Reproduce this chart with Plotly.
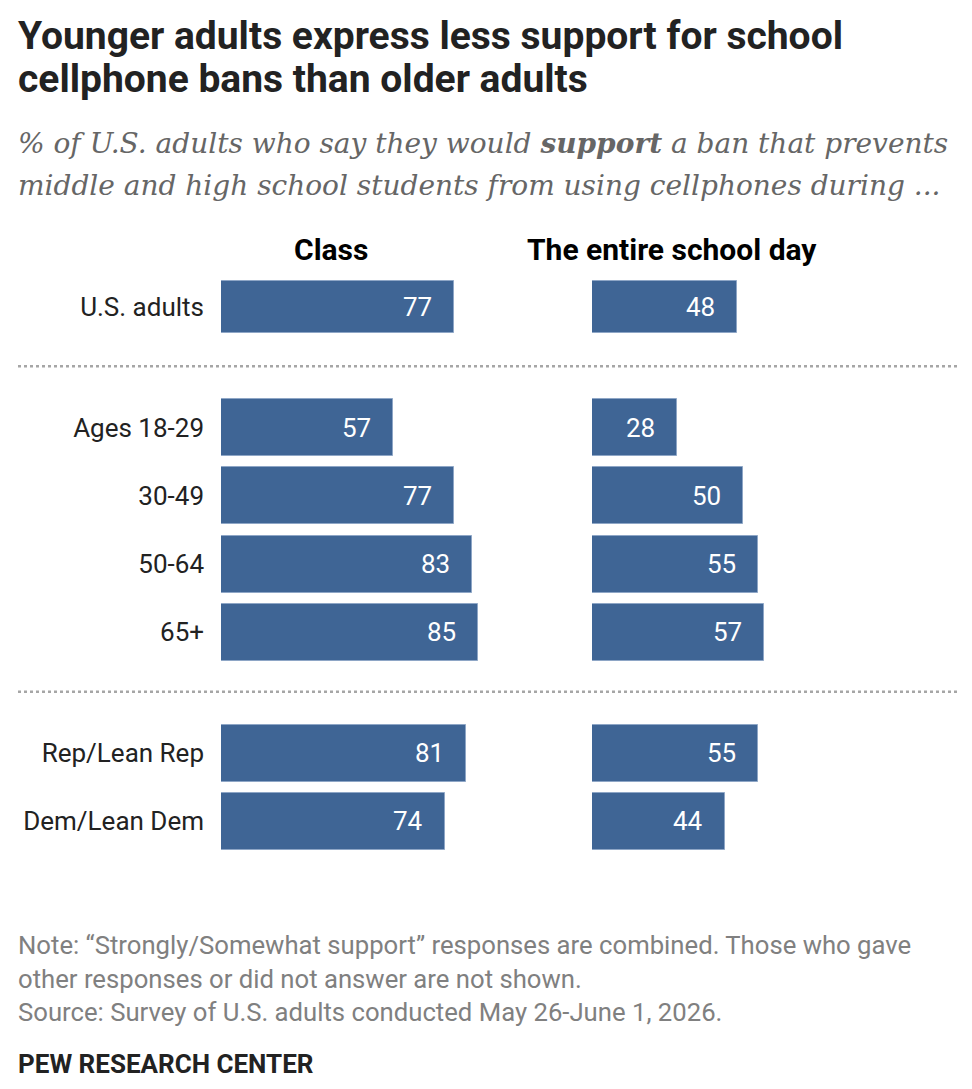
import plotly.graph_objects as go

# ---- data ----
categories = ["U.S. adults", "Ages 18-29", "30-49", "50-64", "65+",
              "Rep/Lean Rep", "Dem/Lean Dem"]
groups = [0, 1, 1, 1, 1, 2, 2]          # which block each row belongs to
class_support = [77, 57, 77, 83, 85, 81, 74]
schoolday_support = [48, 28, 50, 55, 57, 55, 44]
panel_titles = ["Class", "The entire school day"]

title_lines = ["Younger adults express less support for school",
               "cellphone bans than older adults"]
subtitle_lines = ["% of U.S. adults who say they would <b>support</b> a ban that prevents",
                  "middle and high school students from using cellphones during ..."]
note_lines = ["Note: \u201cStrongly/Somewhat support\u201d responses are combined. Those who gave",
              "other responses or did not answer are not shown.",
              "Source: Survey of U.S. adults conducted May 26-June 1, 2026."]
credit = "PEW RESEARCH CENTER"

# ---- layout helpers (the y axis is laid out in pixels, top = 0) ----
W, H = 972, 1089
BAR = "#3f6595"
EDGE = "#8ea6c6"
PX_PER_PT = 3.025
ROW_STEP, GROUP_GAP, TOP_ROW = 68.2, 52.5, 307

rows_y = [TOP_ROW + i * ROW_STEP + g * GROUP_GAP for i, g in enumerate(groups)]
bar_h = [52 if g == 0 else 57 for g in groups]

def px(x):
    return x / W

panel_left = [221, 592]

fig = go.Figure()
for k, vals in enumerate([class_support, schoolday_support]):
    xa = "x" if k == 0 else "x2"
    fig.add_trace(go.Bar(
        x=vals, y=rows_y, orientation="h", width=bar_h,
        xaxis=xa, yaxis="y",
        marker=dict(color=BAR, line=dict(color=EDGE, width=1)),
        hoverinfo="skip", showlegend=False,
    ))
    for v, yy in zip(vals, rows_y):
        fig.add_annotation(x=v, y=yy, xref=xa, yref="y", text=str(v),
                           xanchor="right", yanchor="middle", xshift=-20,
                           showarrow=False,
                           font=dict(family="Roboto", size=26, color="white"))

# separators between blocks
for a, b in zip(range(len(groups) - 1), range(1, len(groups))):
    if groups[a] != groups[b]:
        fig.add_shape(type="line", xref="paper", yref="y",
                      x0=px(18), x1=px(960),
                      y0=(rows_y[a] + rows_y[b]) / 2 - 1, y1=(rows_y[a] + rows_y[b]) / 2 - 1,
                      line=dict(color="#a6a6a6", width=2.5, dash="dot"))

# panel headers
for x_c, t in zip([331, 672], panel_titles):
    fig.add_annotation(x=px(x_c), y=249, xref="paper", yref="y", text="<b>%s</b>" % t,
                       xanchor="center", yanchor="middle", showarrow=False,
                       font=dict(family="Roboto", size=30, color="#000000"))

# title / subtitle / notes
for i, t in enumerate(title_lines):
    fig.add_annotation(x=px(16), y=36 + i * 43, xref="paper", yref="y",
                       text="<b>%s</b>" % t, xanchor="left", yanchor="middle",
                       showarrow=False,
                       font=dict(family="Roboto", size=39, color="#222222"))
for i, t in enumerate(subtitle_lines):
    fig.add_annotation(x=px(16), y=143 + i * 42, xref="paper", yref="y",
                       text="<i>%s</i>" % t, xanchor="left", yanchor="middle",
                       showarrow=False,
                       font=dict(family="DejaVu Serif", size=28, color="#666666"))
for i, t in enumerate(note_lines):
    fig.add_annotation(x=px(16), y=945 + i * 33.5, xref="paper", yref="y",
                       text=t, xanchor="left", yanchor="middle", showarrow=False,
                       font=dict(family="Roboto", size=25.7, color="#808080"))
fig.add_annotation(x=px(16), y=1064, xref="paper", yref="y",
                   text="<b>%s</b>" % credit, xanchor="left", yanchor="middle",
                   showarrow=False,
                   font=dict(family="Roboto", size=26, color="#222222"))

span = PX_PER_PT * 100
fig.update_layout(
    width=W, height=H,
    margin=dict(l=0, r=0, t=0, b=0),
    paper_bgcolor="white", plot_bgcolor="white",
    bargap=0,
    xaxis=dict(domain=[px(panel_left[0]), px(panel_left[0] + span)], range=[0, 100],
               visible=False, fixedrange=True),
    xaxis2=dict(domain=[px(panel_left[1]), px(panel_left[1] + span)], range=[0, 100],
                visible=False, fixedrange=True, anchor="y"),
    yaxis=dict(domain=[0, 1], range=[H, 0], anchor="x",
               tickmode="array", tickvals=rows_y, ticktext=categories,
               ticks="", showline=False, showgrid=False, zeroline=False,
               ticklabelstandoff=16, automargin=False, fixedrange=True,
               tickfont=dict(family="Roboto", size=26, color="#222222")),
)

# the page's default body margin would push the chart 8px right and down
fig.write_html("out.html", config={"displayModeBar": False},
               post_script="document.body.style.margin='0px';")
